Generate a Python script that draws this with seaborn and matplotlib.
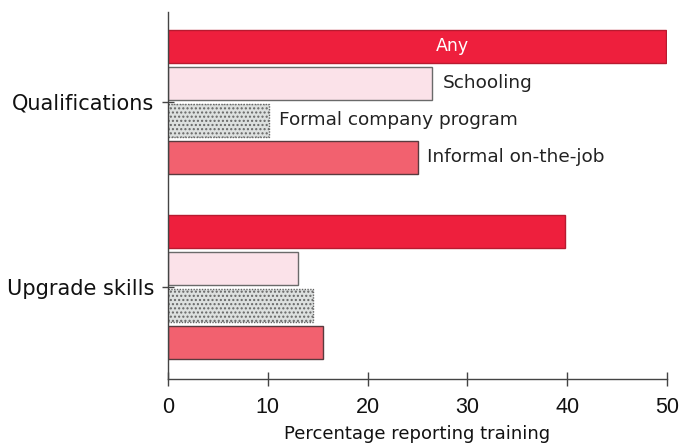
import matplotlib
matplotlib.use("Agg")
import matplotlib.pyplot as plt
import seaborn as sns
import pandas as pd

# Share of workers reporting training, by reason and source
reasons = ["Qualifications", "Upgrade skills"]
sources = ["Any", "Schooling", "Formal company program", "Informal on-the-job"]
qualifications = [49.9, 26.5, 10.1, 25.0]
upgrade_skills = [39.8, 13.0, 14.5, 15.5]
x_ticks = [0, 10, 20, 30, 40, 50]

df = pd.DataFrame({
    "reason": [r for r in reasons for _ in sources],
    "source": sources * 2,
    "pct": qualifications + upgrade_skills,
})

sns.set_theme(style="white")
plt.rcParams["font.family"] = ["Liberation Sans", "DejaVu Sans"]
WIDE = "DejaVu Sans"

face = {"Any": "#ee1f3d", "Schooling": "#fbe2e9",
        "Formal company program": "#dde0df", "Informal on-the-job": "#f2616f"}
edge = {"Any": "#b81a30", "Schooling": "#6a6a6a",
        "Formal company program": "#666666", "Informal on-the-job": "#5a3a3e"}

fig = plt.figure(figsize=(6.87, 4.43), dpi=100)
ax = fig.add_axes([168 / 687, 1 - 379 / 443, (667 - 168) / 687, (379 - 12) / 443])

sns.barplot(data=df, y="reason", x="pct", hue="source", hue_order=sources,
            order=reasons, orient="h", width=0.8, gap=0.1, palette=face,
            legend=False, ax=ax, saturation=1)

# style each hue's bars
for container, src in zip(ax.containers, sources):
    for bar in container:
        bar.set_edgecolor(edge[src])
        bar.set_linewidth(1.0)
        if src == "Formal company program":
            bar.set_hatch("....")
            bar.set_linestyle((0, (1, 1)))

# labels beside the Qualifications bars
q_bars = [c[0] for c in ax.containers]
any_bar = q_bars[0]
ax.text(28.5, any_bar.get_y() + any_bar.get_height() / 2, "Any",
        color="white", ha="center", va="center", fontsize=12.5, family=WIDE)
for bar, src in zip(q_bars[1:], sources[1:]):
    ax.text(bar.get_width() + 1.0, bar.get_y() + bar.get_height() / 2, src,
            color="#222222", ha="left", va="center", fontsize=13.3, family=WIDE)

ax.set_xlim(0, 50)
ax.set_ylim(1.497, -0.486)
ax.set_xticks(x_ticks)
ax.set_xticklabels([str(t) for t in x_ticks])
ax.set_xlabel("Percentage reporting training", fontsize=13, color="#111111",
              labelpad=5, family=WIDE)
ax.set_ylabel("")
for lbl in ax.get_yticklabels():
    lbl.set_family(WIDE)

for side in ("top", "right"):
    ax.spines[side].set_visible(False)
for side in ("left", "bottom"):
    ax.spines[side].set_color("#444444")
    ax.spines[side].set_linewidth(1.0)

ax.tick_params(axis="x", bottom=True, direction="inout", length=10, width=1,
               color="#444444", labelsize=15.5, labelcolor="#111111", pad=8)
ax.tick_params(axis="y", left=True, direction="inout", length=8, width=1,
               color="#444444", labelsize=15, labelcolor="#111111", pad=6)

fig.savefig("out.png", dpi=100, facecolor="white")
